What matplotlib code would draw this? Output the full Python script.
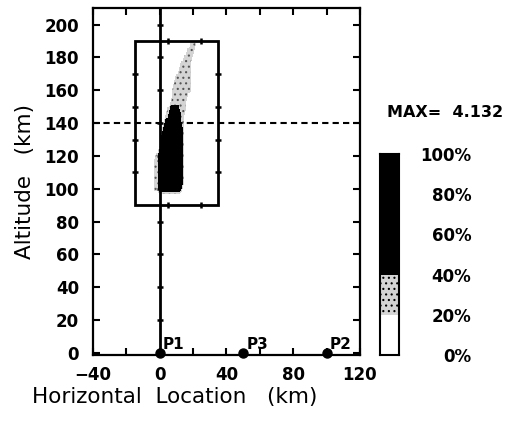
import matplotlib
matplotlib.use("Agg")
import matplotlib.pyplot as plt
from matplotlib.patches import Rectangle
import numpy as np

# density cloud, read row by row (altitude km -> x extent km)
alt_rows = [100, 104, 108, 112, 116, 120, 124, 128, 132, 136, 140, 144, 148,
            152, 156, 160, 164, 168, 172, 176, 180, 184, 188]
black_lo = [0, 0, 0, 0, 0, 0, 1, 2, 2, 3, 4, 6, 7,
            np.nan, np.nan, np.nan, np.nan, np.nan, np.nan, np.nan, np.nan, np.nan, np.nan]
black_hi = [12, 13, 13, 13, 13, 13, 13, 13, 13, 13, 12, 12, 11,
            np.nan, np.nan, np.nan, np.nan, np.nan, np.nan, np.nan, np.nan, np.nan, np.nan]
gray_lo = [-3, -3, -3, -3, -3, -2, 0, 1, 1, 2, 3, 4, 5, 7, 8, 8, 9, 10, 12, 13, 15, 17, 19]
gray_hi = [13, 14, 14, 14, 14, 14, 14, 14, 14, 14, 14, 14, 15, 15, 16, 18, 18, 18, 18, 18, 19, 20, 21]

# stations on the ground
station_x = [0, 50, 100]
station_names = ["P1", "P3", "P2"]

# search box and reference altitude
box_x = [-15, 35]
box_y = [90, 190]
ref_alt = 140

# colour classes
class_edges = [0, 20, 40, 100]
class_colors = ["white", "#d4d4d4", "black"]
class_hatch = [None, "...", None]
max_value = 4.132

plt.rcParams['font.family'] = ['DejaVu Sans']
plt.rcParams['hatch.color'] = '#555555'
plt.rcParams['hatch.linewidth'] = 0.8

fig = plt.figure(figsize=(5.22, 4.23), dpi=100)
ax = fig.add_axes([0.178, 0.1608, 0.5115, 0.820])

# build grid of class values from the row extents
xg = np.arange(-6, 24, 1.0)
yg = np.array([96] + alt_rows + [192], dtype=float)
Z = np.zeros((len(yg), len(xg)))
for i, a in enumerate(alt_rows):
    for j, x in enumerate(xg):
        if black_lo[i] <= x <= black_hi[i]:
            Z[i + 1, j] = 70
        elif gray_lo[i] <= x <= gray_hi[i]:
            Z[i + 1, j] = 30
ax.contourf(xg, yg, Z, levels=[20, 40, 100], colors=class_colors[1:],
            hatches=class_hatch[1:], zorder=2)

ax.axvline(0, color='k', lw=2, zorder=3)
ax.plot([0] * 10, np.arange(20, 201, 20), ls='none', marker='_', ms=5, mew=1.8,
        color='k', zorder=3)
ax.axhline(ref_alt, color='k', lw=1.5, ls=(0, (3, 2)), zorder=3)

ax.add_patch(Rectangle((box_x[0], box_y[0]), box_x[1] - box_x[0], box_y[1] - box_y[0],
                       fill=False, lw=2, ec='k', zorder=4))
for bx in box_x:
    ax.plot([bx] * 4, [110, 130, 150, 170], ls='none', marker='_', ms=4, mew=1.8,
            color='k', zorder=4)
for by in box_y:
    ax.plot([5, 25], [by, by], ls='none', marker='|', ms=4, mew=1.8, color='k', zorder=4)

ax.plot(station_x, [0] * len(station_x), 'o', color='k', ms=6.5, clip_on=False, zorder=5)
for sx, name in zip(station_x, station_names):
    ax.text(sx + 2, 0.5, name, fontsize=11, fontweight='bold', va='bottom', ha='left')

ax.set_xlim(-40, 120)
ax.set_ylim(-1.2, 210)
ax.set_xticks([-40, 0, 40, 80, 120])
ax.set_xticks(np.arange(-40, 121, 20), minor=True)
ax.set_xticklabels(['\u221240', '0', '40', '80', '120'])
ax.set_yticks(np.arange(0, 201, 20))
ax.tick_params(which='both', direction='in', top=True, right=True, length=5,
               width=1.5, labelsize=12)
ax.tick_params(axis='x', pad=8)
ax.tick_params(axis='y', pad=10)
for lab in ax.get_xticklabels() + ax.get_yticklabels():
    lab.set_fontweight('bold')
for s in ax.spines.values():
    s.set_linewidth(1.6)

fig.text(0.335, 0.061, 'Horizontal  Location   (km)', fontsize=15.5, ha='center', va='center')
fig.text(0.048, 0.57, 'Altitude   (km)', fontsize=15.5, ha='center', va='center', rotation=90)

# colour scale
cax = fig.add_axes([0.728, 0.1608, 0.0364, 0.475])
for lo, hi, c, h in zip(class_edges[:-1], class_edges[1:], class_colors, class_hatch):
    cax.bar(0, hi - lo, bottom=lo, width=1, color=c, hatch=h, edgecolor='k', lw=0)
cax.set_xlim(-0.5, 0.5)
cax.set_ylim(0, 100)
cax.set_xticks([])
cax.yaxis.tick_right()
cax.set_yticks(np.arange(0, 101, 20))
cax.set_yticklabels(['%d%%' % v for v in range(0, 101, 20)])
cax.tick_params(axis='y', length=0, pad=52, labelsize=12)
for lab in cax.get_yticklabels():
    lab.set_fontweight('bold')
    lab.set_horizontalalignment('right')
for s in cax.spines.values():
    s.set_linewidth(1.5)

fig.text(0.741, 0.733, 'MAX=  %.3f' % max_value, fontsize=11.5, fontweight='bold',
         ha='left', va='center')

fig.savefig('out.png', dpi=100)
